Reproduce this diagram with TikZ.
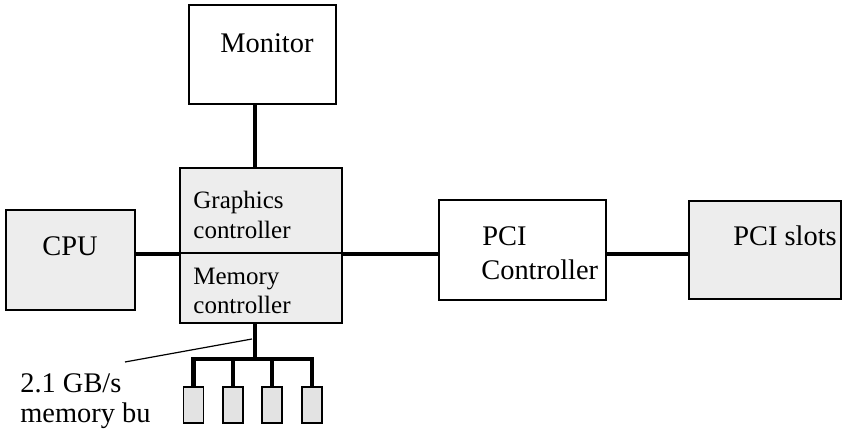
\documentclass[tikz,border=0pt]{standalone}
\usepackage{fontspec}
\setmainfont{Liberation Serif}
\begin{document}
\begin{tikzpicture}[x=0.5pt,y=-0.5pt,
  box/.style={draw, line width=0.75pt, inner sep=0pt, outer sep=0pt},
  shaded/.style={box, fill=gray!14},
  dimmbox/.style={box, fill=gray!22, minimum width=10pt, minimum height=18pt},
  conn/.style={line width=2.2pt, line join=miter},
  thinline/.style={line width=0.6pt},
  lbl/.style={font=\fontsize{14.2pt}{17pt}\selectfont, anchor=base west, inner sep=0pt},
  slbl/.style={font=\fontsize{12.5pt}{15pt}\selectfont, anchor=base west, inner sep=0pt}]
\useasboundingbox (0,0) rectangle (843,437);
% boxes
\node[box, minimum width=73.5pt, minimum height=49.5pt] (monitor) at (262.5,54.5) {};
\node[shaded, minimum width=81pt, minimum height=77.5pt] (gm) at (261,245.5) {};
\node[shaded, minimum width=64.5pt, minimum height=50pt] (cpu) at (70.5,260) {};
\node[box, minimum width=83.5pt, minimum height=50pt] (pcic) at (522.5,250) {};
\node[shaded, minimum width=76pt, minimum height=49pt] (slots) at (765,250) {};
\node[dimmbox] (d1) at (193.5,405) {};
\node[dimmbox] (d2) at (233,405) {};
\node[dimmbox] (d3) at (272,405) {};
\node[dimmbox] (d4) at (312,405) {};
% helper coordinates
\coordinate (busx) at (255,0);
\coordinate (midy) at (0,254);
\coordinate (divy) at (0,253);
\coordinate (busj) at (255,359);
\coordinate (la) at (125,362);
\coordinate (lb) at (252,339);
% divider
\draw[thinline] (gm.west |- divy) -- (gm.east |- divy);
% connectors
\draw[conn] (monitor.south -| busx) -- (gm.north -| busx);
\draw[conn] (cpu.east |- midy) -- (gm.west |- midy);
\draw[conn] (gm.east |- midy) -- (pcic.west |- midy);
\draw[conn] (pcic.east |- midy) -- (slots.west |- midy);
\draw[conn] (gm.south -| busx) -- (busj);
\draw[conn] (d1.north) -- (d1.north |- busj) -- (d4.north |- busj) -- (d4.north);
\draw[conn] (d2.north |- busj) -- (d2.north);
\draw[conn] (d3.north |- busj) -- (d3.north);
\draw[thinline] (la) -- (lb);
% texts
\node[lbl] (tmon) at (220,53) {Monitor};
\node[slbl] (tg1) at (193,209) {Graphics};
\node[slbl] (tg2) at (193,239) {controller};
\node[slbl] (tm1) at (193,285) {Memory};
\node[slbl] (tm2) at (193,314) {controller};
\node[lbl] (tcpu) at (42,256) {CPU};
\node[lbl] (tp1) at (482,246) {PCI};
\node[lbl] (tp2) at (481,280) {Controller};
\node[lbl] (tslots) at (733,246) {PCI slots};
\node[lbl] (tbw1) at (20,393) {2.1 GB/s};
\node[lbl] (tbw2) at (20,423) {memory bu};
\end{tikzpicture}
\end{document}
